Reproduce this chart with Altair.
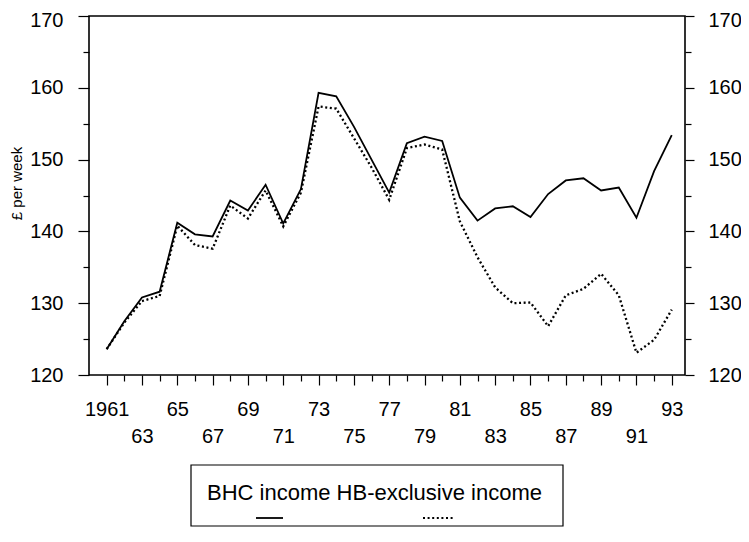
import altair as alt
import pandas as pd

years = list(range(1961, 1994))
bhc_income = [123.6, 127.5, 130.8, 131.6, 141.2, 139.6, 139.3, 144.3, 142.9, 146.5,
              141.1, 145.9, 159.3, 158.8, 154.6, 150.0, 145.4, 152.3, 153.2, 152.6,
              144.7, 141.5, 143.2, 143.5, 142.0, 145.2, 147.1, 147.4, 145.7, 146.1,
              141.9, 148.4, 153.4]
hb_exclusive = [123.6, 127.3, 130.3, 131.0, 140.8, 138.1, 137.6, 143.6, 141.8, 145.7,
                140.7, 145.4, 157.4, 157.1, 153.0, 148.9, 144.4, 151.6, 152.1, 151.4,
                141.4, 136.4, 132.2, 130.0, 130.1, 126.8, 131.1, 132.0, 134.1, 131.1,
                123.1, 124.9, 129.1]
y_ticks = list(range(120, 171, 5))
legend_text = "BHC income HB-exclusive income"

FONT = "Liberation Sans, Arial, Helvetica, sans-serif"

df = pd.DataFrame({"year": years, "bhc": bhc_income, "hb": hb_exclusive})
one = pd.DataFrame({"a": [0]})

xscale = alt.Scale(domain=[1960, 1993.75], nice=False, zero=False)
yscale = alt.Scale(domain=[120, 170], nice=False, zero=False)

x_label_expr = (
    "datum.value == 1961 ? '1961' : "
    "(datum.value % 4 == 1 ? substring(toString(datum.value), 2) : "
    "(datum.value % 2 == 1 ? [' ', substring(toString(datum.value), 2)] : ''))"
)

x_axis = alt.Axis(
    values=years, labelExpr=x_label_expr, title=None, grid=False, domain=False,
    tickColor="black", tickWidth=1.2,
    tickSize={"condition": {"test": "datum.value % 2 == 1", "value": 10}, "value": 6},
    labelFont=FONT, labelFontSize=20, labelColor="black",
    labelOverlap=False, labelFlush=False, labelBound=False,
    labelPadding=14, labelLineHeight=27,
)

top_offset = {"condition": {"test": "datum.value == 170", "value": 4}, "value": 0}

y_left = alt.Axis(
    values=y_ticks, orient="left",
    labelExpr="datum.value % 10 == 0 ? datum.label : ''",
    title="£ per week", titleFont=FONT, titleFontSize=15, titleFontWeight="normal",
    titleColor="black", titleX=-68, titleY=167, titleBaseline="alphabetic",
    grid=False, domain=False, tickColor="black", tickWidth=1.2,
    tickSize={"condition": {"test": "datum.value % 10 == 0", "value": 11}, "value": 6},
    labelFont=FONT, labelFontSize=20, labelColor="black", labelPadding=15,
    labelOffset=top_offset,
    labelOverlap=False, labelFlush=False, labelBound=False,
)

y_right = alt.Axis(
    values=y_ticks, orient="right",
    labelExpr="datum.value % 10 == 0 ? datum.label : ''",
    title=None, grid=False, domain=False, tickColor="black", tickWidth=1.2,
    tickSize={"condition": {"test": "datum.value % 10 == 0", "value": 9}, "value": 6},
    labelFont=FONT, labelFontSize=20, labelColor="black", labelPadding=14,
    labelOffset=top_offset,
    labelOverlap=False, labelFlush=False, labelBound=False,
)

solid = alt.Chart(df).mark_line(color="black", strokeWidth=1.8).encode(
    x=alt.X("year:Q", scale=xscale, axis=x_axis),
    y=alt.Y("bhc:Q", scale=yscale, axis=y_left),
)

dotted = alt.Chart(df).mark_line(color="black", strokeWidth=2.3, strokeDash=[2, 2.6]).encode(
    x=alt.X("year:Q", scale=xscale, axis=x_axis),
    y=alt.Y("hb:Q", scale=yscale, axis=y_right),
)

# legend (drawn as a boxed key below the plot)
box = alt.Chart(one).mark_rect(fill="white", fillOpacity=0, stroke="black", strokeWidth=1.2).encode(
    x=alt.value(102), x2=alt.value(474), y=alt.value(449), y2=alt.value(510)
)
ltext = alt.Chart(one).mark_text(
    font=FONT, fontSize=22, align="left", baseline="alphabetic", color="black"
).encode(x=alt.value(118), y=alt.value(484), text=alt.value(legend_text))
lsolid = alt.Chart(one).mark_rule(color="black", strokeWidth=1.8).encode(
    x=alt.value(167), x2=alt.value(194), y=alt.value(502)
)
ldot = alt.Chart(one).mark_rule(color="black", strokeWidth=2, strokeDash=[2, 2.6]).encode(
    x=alt.value(334), x2=alt.value(364), y=alt.value(502)
)

chart = (
    alt.layer(solid, dotted, box, ltext, lsolid, ldot)
    .resolve_axis(y="independent")
    .properties(
        width=596, height=359,
        autosize=alt.AutoSizeParams(type="none"),
        padding={"left": 81, "top": 8, "right": 56, "bottom": 153},
        background="white",
    )
    .configure_view(stroke="black", strokeWidth=1.6)
)

chart.save("out.html", embed_options={"renderer": "svg", "actions": False})
